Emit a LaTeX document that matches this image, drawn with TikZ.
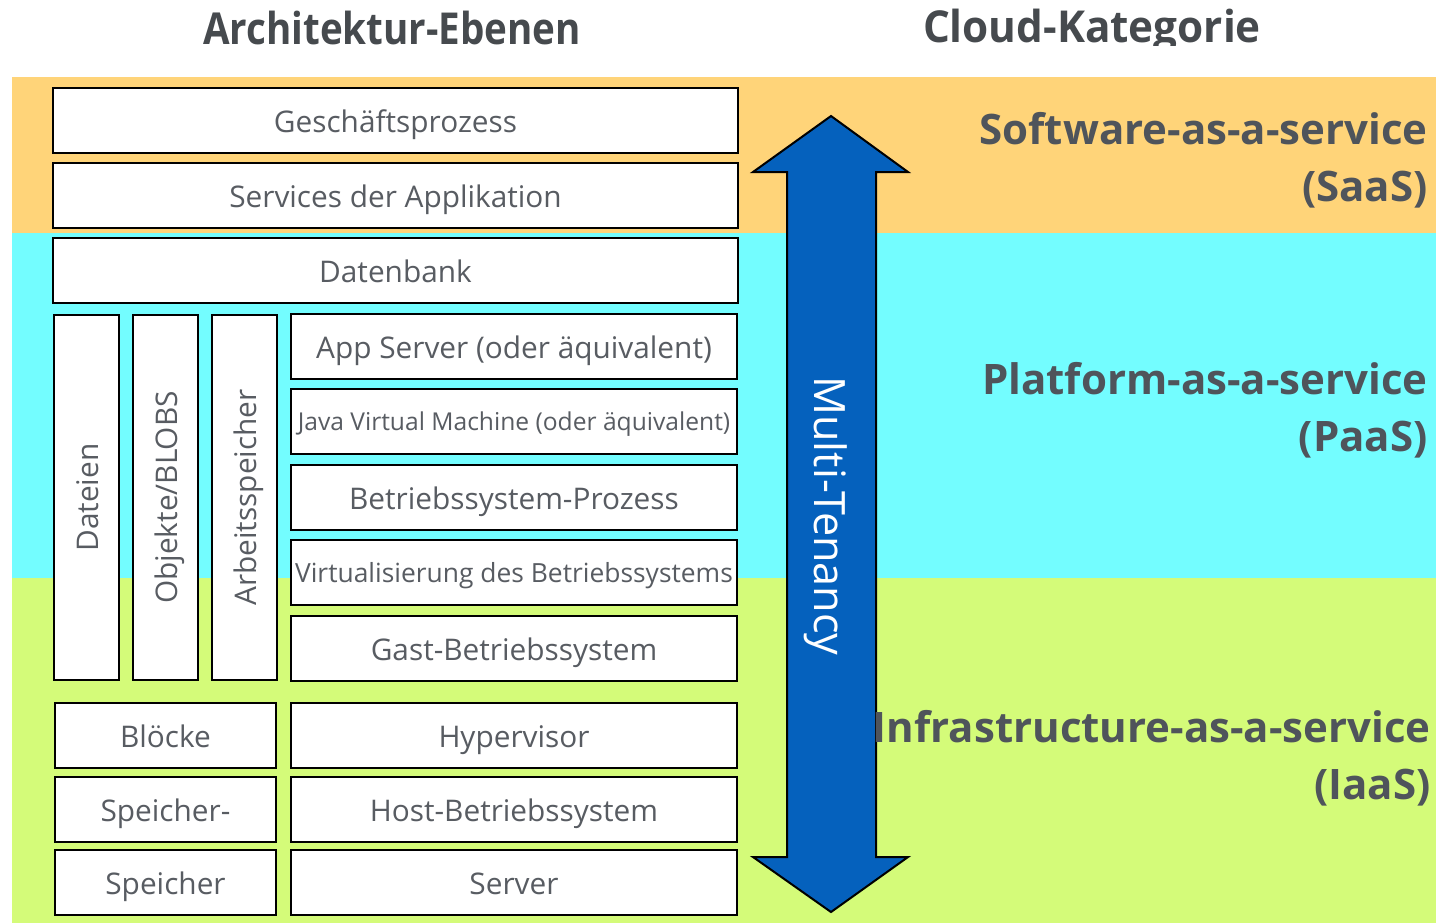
\documentclass[tikz,border=0pt]{standalone}
\usepackage{fontspec}
\setmainfont{Open Sans}
\newfontfamily\condA[FakeStretch=0.876]{Open Sans}
\newfontfamily\condB[FakeStretch=0.96]{Open Sans}
\definecolor{cant}{HTML}{FFD479}
\definecolor{ice}{HTML}{73FDFF}
\definecolor{honey}{HTML}{D4FB79}
\definecolor{txt}{HTML}{585C62}
\definecolor{lab}{HTML}{4F545B}
\definecolor{arrowblue}{HTML}{0561BD}
\tikzset{
  box/.style={draw=black, fill=white, line width=1pt, inner sep=0pt, text=txt, font=\fontsize{14.9}{17}\selectfont, text height=11.5pt, text depth=0pt},
  wide/.style={box, minimum width=342.5pt, minimum height=32.5pt},
  col/.style={box, minimum width=223pt, minimum height=32.5pt},
  small/.style={box, minimum width=110.5pt, minimum height=32.5pt},
  tall/.style={box, minimum width=32.5pt, minimum height=182.5pt},
  vlab/.style={rotate=90, text=txt, font=\fontsize{14.9}{17}\selectfont, inner sep=0pt, text height=11.5pt, text depth=0pt},
  cat/.style={text=lab, font=\fontsize{21}{28.5}\selectfont\bfseries, align=right, anchor=east, inner sep=0pt},
  head/.style={text=txt!80!black, font=\fontsize{22}{25}\selectfont\bfseries, inner sep=0pt}
}
\begin{document}
\begin{tikzpicture}[x=0.5pt,y=-0.5pt]
\useasboundingbox (0,0) rectangle (1436,923);
\fill[white] (0,0) rectangle (1436,923);
% bands
\fill[cant] (12,77) rectangle (1436,233);
\fill[ice] (12,233) rectangle (1436,578);
\fill[honey] (12,578) rectangle (1436,923);
% headers
\node[head] (h1) at (392,28) {\condA\bfseries Architektur-Ebenen};
\begin{scope}
\clip (880,0) rectangle (1320,45);
\node[head] (h2) at (1092,31) {\condB\bfseries Cloud-Kategorie};
\end{scope}
% boxes
\node[wide] (gp) at (395.5,120.5) {Geschäftsprozess};
\node[wide] (sa) at (395.5,195.5) {Services der Applikation};
\node[wide] (db) at (395.5,270.5) {Datenbank};
\node[tall] (da) at (86.5,497.5) {};
\node[vlab] (dal) at (da.center) {Dateien};
\node[tall] (ob) at (165.5,497.5) {};
\node[vlab] (obl) at (ob.center) {Objekte/BLOBS};
\node[tall] (as) at (244.5,497.5) {};
\node[vlab] (asl) at (as.center) {Arbeitsspeicher};
\node[col] (app) at (514,346.5) {App Server (oder äquivalent)};
\node[col, font=\fontsize{12.3}{14}\selectfont, text height=9pt] (jvm) at (514,421.5) {Java Virtual Machine (oder äquivalent)};
\node[col, font=\fontsize{13.2}{15}\selectfont, text height=10.2pt] (vb) at (514,572.5) {Virtualisierung des Betriebssystems};
\node[col] (bp) at (514,497.5) {Betriebssystem-Prozess};
\node[col] (gb) at (514,648.5) {Gast-Betriebssystem};
\node[small] (bl) at (165.5,735.5) {Blöcke};
\node[col] (hv) at (514,735.5) {Hypervisor};
\node[small] (sp1) at (165.5,809.5) {Speicher-};
\node[col] (hb) at (514,809.5) {Host-Betriebssystem};
\node[small] (sp2) at (165.5,882.5) {Speicher};
\node[col] (sv) at (514,882.5) {Server};
% arrow
\draw[fill=arrowblue, draw=black, line width=1pt, line join=miter]
  (831,116) -- (908,172) -- (876,172) -- (876,857) -- (908,857) -- (831,912)
  -- (753,857) -- (787,857) -- (787,172) -- (753,172) -- cycle;
\node[rotate=-90, text=white, font=\fontsize{21.6}{24}\selectfont, inner sep=0pt] (mt) at (826,516) {Multi-Tenancy};
% categories
\node[cat] (saas) at (1428,160) {Software-as-a-service\\(SaaS)};
\node[cat] (paas) at (1428,410) {Platform-as-a-service\\(PaaS)};
\node[cat] (iaas) at (1431,758) {Infrastructure-as-a-service\\(IaaS)};
\end{tikzpicture}
\end{document}
